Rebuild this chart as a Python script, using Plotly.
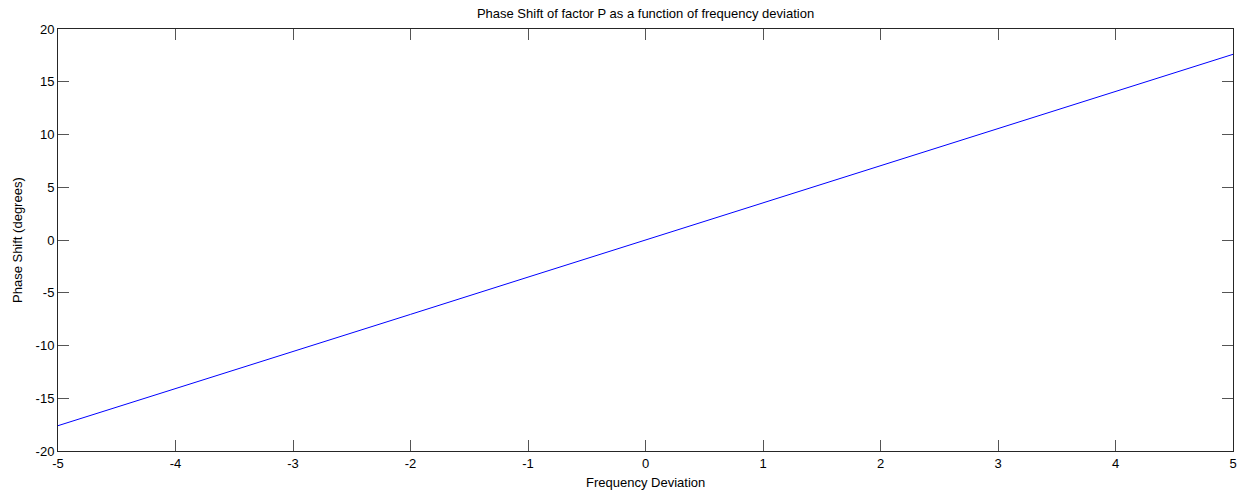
import plotly.graph_objects as go

# Frequency deviation and the resulting phase shift of factor P
freq_dev = [-5, -4, -3, -2, -1, 0, 1, 2, 3, 4, 5]
phase_shift = [-17.6, -14.1, -10.6, -7.05, -3.52, 0.0, 3.52, 7.05, 10.6, 14.1, 17.6]

x_ticks = [-5, -4, -3, -2, -1, 0, 1, 2, 3, 4, 5]
y_ticks = [-20, -15, -10, -5, 0, 5, 10, 15, 20]

FONT = "Liberation Sans, Arial, sans-serif"
AXIS_COLOR = "#262626"
W, H = 1241, 491

fig = go.Figure()
fig.add_trace(go.Scatter(
    x=freq_dev, y=phase_shift, mode="lines",
    line=dict(color="#0000FF", width=1),
    hoverinfo="skip", showlegend=False,
))

axis_common = dict(
    showgrid=False, zeroline=False, automargin=False,
    showline=True, linecolor=AXIS_COLOR, linewidth=1, mirror="allticks",
    ticks="inside", ticklen=11, tickwidth=1, tickcolor="#555555",
    tickfont=dict(family=FONT, size=13, color="#000000"),
)

fig.update_layout(
    width=W, height=H,
    margin=dict(l=58, r=8, t=29, b=40),
    paper_bgcolor="white", plot_bgcolor="white",
    font=dict(family=FONT, size=13, color="#000000"),
    title=dict(
        text="Phase Shift of factor P as a function of frequency deviation",
        x=0.5, xanchor="center", xref="paper",
        y=1 - 13 / H, yanchor="middle",
        font=dict(family=FONT, size=13, color="#000000"),
    ),
    xaxis=dict(range=[-5, 5], tickvals=x_ticks,
               ticktext=[str(v) for v in x_ticks], **axis_common),
    yaxis=dict(range=[-20, 20], tickvals=y_ticks,
               ticktext=[str(v) for v in y_ticks], **axis_common),
)

# Axis titles placed as paper-anchored annotations
fig.add_annotation(
    text="Frequency Deviation", xref="paper", yref="paper",
    x=0.5, y=-(482 - 451) / (451 - 29), xanchor="center", yanchor="middle",
    showarrow=False, font=dict(family=FONT, size=13),
)
fig.add_annotation(
    text="Phase Shift (degrees)", xref="paper", yref="paper",
    x=-(58 - 17) / (1233 - 58), y=0.5, xanchor="center", yanchor="middle",
    textangle=-90, showarrow=False, font=dict(family=FONT, size=13),
)

fig.write_html("out.html")
